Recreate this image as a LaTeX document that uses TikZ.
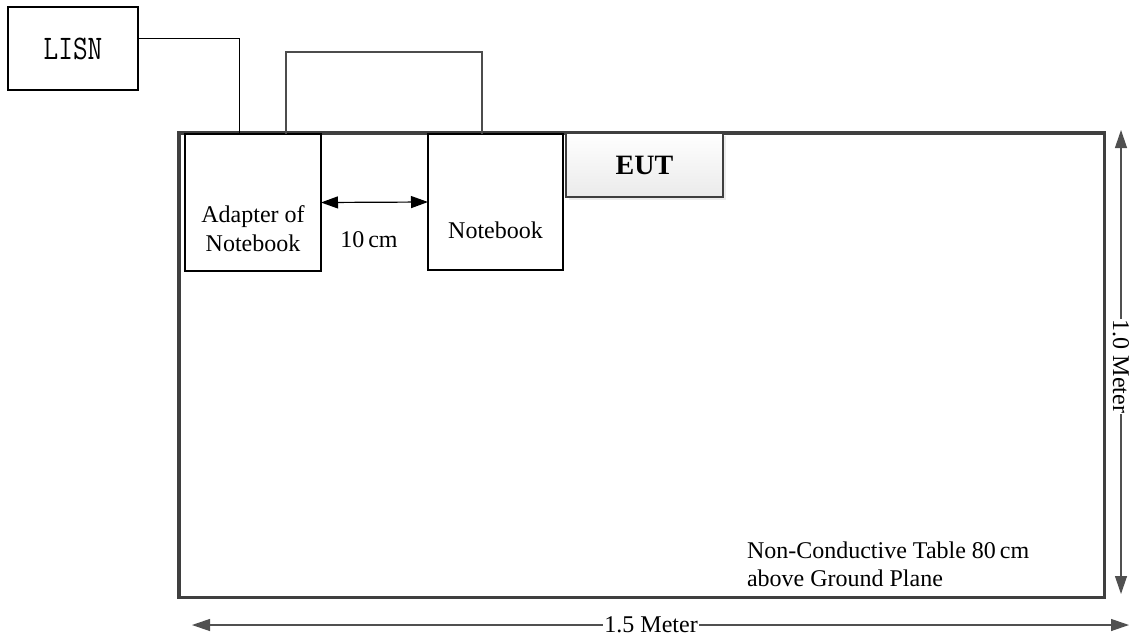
\documentclass[tikz,border=0pt]{standalone}
\usepackage{fontspec}
\setmainfont{Liberation Serif}
\usetikzlibrary{arrows.meta,calc,shadows}
\definecolor{frame}{HTML}{3F3F3F}
\definecolor{dimline}{HTML}{505050}
\tikzset{
  every node/.style={inner sep=0pt, outer sep=0pt},
  txt/.style={font=\fontsize{24}{29}\selectfont},
  devbox/.style={draw=black, line width=1.8pt, fill=white},
  tablebox/.style={draw=frame, line width=3.5pt},
  eutbox/.style={draw=frame, line width=2.5pt, top color=white, bottom color=black!8,
    drop shadow={shadow xshift=3pt, shadow yshift=-3pt, opacity=0.15}},
  wire/.style={draw=black, line width=1pt},
  wiregray/.style={draw=black!70, line width=1.2pt},
  gap/.style={draw=black, line width=1.2pt, {Triangle[length=17pt,width=12pt]}-{Triangle[length=17pt,width=12pt]}},
  dim/.style={draw=dimline, line width=1.2pt, {Triangle[length=18pt,width=12pt]}-{Triangle[length=18pt,width=12pt]}},
  dimlabel/.style={txt, fill=white, inner xsep=1pt}
}
\begin{document}
\begin{tikzpicture}[x=1pt,y=-1pt]
\useasboundingbox (0,0) rectangle (1135,638);
% table
\node[tablebox, minimum width=925.5pt, minimum height=464.5pt] (table) at (641.5,365) {};
% devices
\node[devbox, minimum width=130pt, minimum height=83pt, font=\ttfamily\fontsize{30}{32}\selectfont] (lisn) at (73,48.5) {\scalebox{0.95}[1.15]{LISN}};
\node[devbox, minimum width=136pt, minimum height=137pt] (adapter) at (253,202.5) {};
\node[devbox, minimum width=135pt, minimum height=136pt] (notebook) at (495.5,202) {};
\node[eutbox, minimum width=157pt, minimum height=64pt, font=\bfseries\fontsize{28}{32}\selectfont] (eut) at (644.5,165) {EUT};
% texts
\node[txt, align=center] (adaptertxt) at (253,229) {Adapter of\\Notebook};
\node[txt, anchor=base] (notebooktxt) at (495.5,238) {Notebook};
\node[txt, anchor=base] (gaptxt) at (369,247) {10\,cm};
\node[txt, align=left, anchor=north west, font=\fontsize{24}{27.5}\selectfont] (tabletxt) at (747,542) {Non-Conductive Table 80\,cm\\above Ground Plane};
% wires
\draw[wire] ($(lisn.east)+(0,-10.5)$) -| ([xshift=-14pt]adapter.north);
\draw[wiregray] ([xshift=33pt]adapter.north) -- ++(0,-82) -| ([xshift=-13.5pt]notebook.north);
% 10 cm gap
\draw[gap] (adapter.east) -- (notebook.west);
% dimensions
\coordinate (vtop) at (1121,130);
\coordinate (vbot) at (1121,594);
\coordinate (hleft) at (192,625);
\coordinate (hright) at (1129,625);
\draw[dim] (vtop) -- node[dimlabel, rotate=-90, pos=0.51] (vlabel) {1.0 Meter} (vbot);
\draw[dim] (hleft) -- node[dimlabel, pos=0.49] (hlabel) {1.5 Meter} (hright);
\end{tikzpicture}
\end{document}
